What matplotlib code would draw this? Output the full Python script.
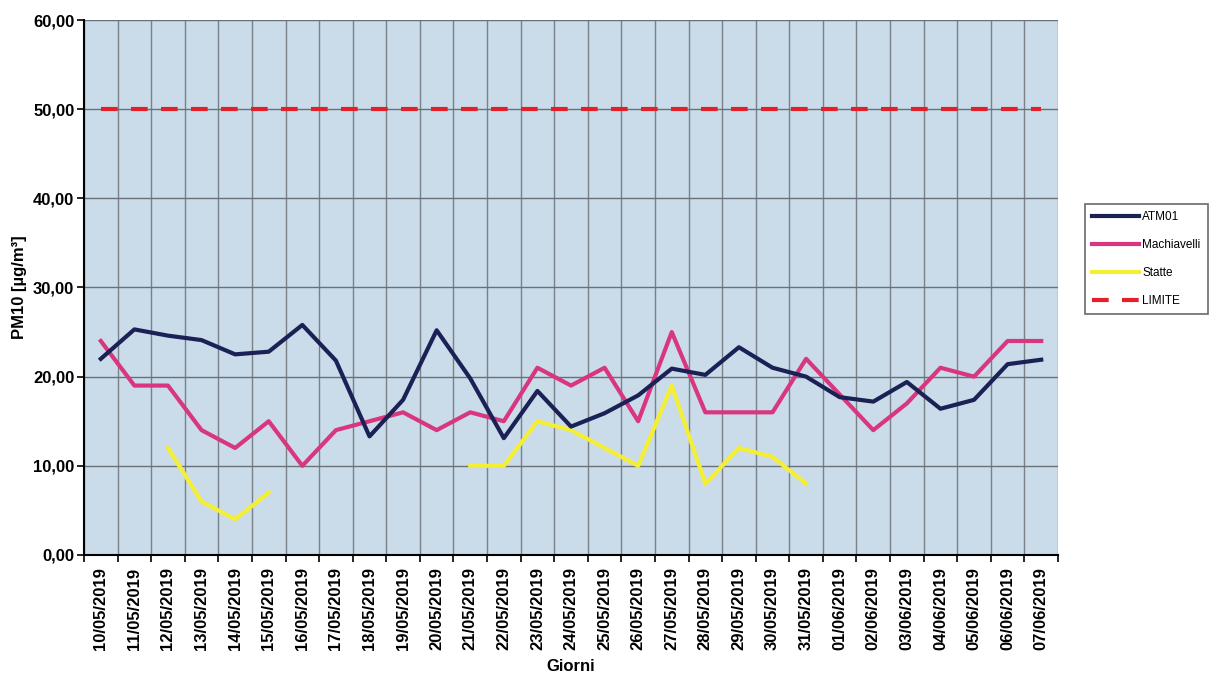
import numpy as np
import matplotlib
matplotlib.use("Agg")
import matplotlib.pyplot as plt

dates = ["10/05/2019", "11/05/2019", "12/05/2019", "13/05/2019", "14/05/2019",
         "15/05/2019", "16/05/2019", "17/05/2019", "18/05/2019", "19/05/2019",
         "20/05/2019", "21/05/2019", "22/05/2019", "23/05/2019", "24/05/2019",
         "25/05/2019", "26/05/2019", "27/05/2019", "28/05/2019", "29/05/2019",
         "30/05/2019", "31/05/2019", "01/06/2019", "02/06/2019", "03/06/2019",
         "04/06/2019", "05/06/2019", "06/06/2019", "07/06/2019"]

atm01 = [22.0, 25.3, 24.6, 24.1, 22.5, 22.8, 25.8, 21.8, 13.3, 17.4,
         25.2, 19.8, 13.1, 18.4, 14.4, 15.9, 17.9, 20.9, 20.2, 23.3,
         21.0, 20.0, 17.7, 17.2, 19.4, 16.4, 17.4, 21.4, 21.9]

machiavelli = [24, 19, 19, 14, 12, 15, 10, 14, 15, 16,
               14, 16, 15, 21, 19, 21, 15, 25, 16, 16,
               16, 22, 18, 14, 17, 21, 20, 24, 24]

nan = np.nan
statte = [nan, nan, 12, 6, 4, 7, nan, nan, nan, nan,
          nan, 10, 10, 15, 14, 12, 10, 19, 8, 12,
          11, 8, nan, nan, nan, nan, nan, nan, nan]

limite = [50] * 29

y_ticks = [0, 10, 20, 30, 40, 50, 60]
y_labels = ["0,00", "10,00", "20,00", "30,00", "40,00", "50,00", "60,00"]

plt.rcParams['font.family'] = ['Liberation Sans', 'DejaVu Sans']

fig = plt.figure(figsize=(12.14, 6.74), dpi=100)
ax = fig.add_axes([0.0692, 0.1766, 0.8023, 0.7937])
ax.set_facecolor('#cadcea')

x = np.arange(len(dates))

ax.plot(x, atm01, color='#1c2155', lw=3.0, label='ATM01', zorder=4)
ax.plot(x, machiavelli, color='#d8377f', lw=3.0, label='Machiavelli', zorder=3)
ax.plot(x, statte, color='#f4ef35', lw=3.0, label='Statte', zorder=3)
ax.plot(x, limite, color='#e3202a', lw=3.0, linestyle=(0, (4, 3.2)), label='LIMITE', zorder=5)

ax.set_xlim(-0.5, len(dates) - 0.5)
ax.set_ylim(0, 60)

ax.set_xticks(x)
ax.set_xticklabels(dates, rotation=90, fontsize=12, fontweight='bold')
ax.set_xticks(np.arange(-0.5, len(dates), 1.0), minor=True)
ax.tick_params(axis='x', which='major', length=0, pad=9)
ax.tick_params(axis='x', which='minor', length=5, width=1.2, color='black', direction='out')

ax.set_yticks(y_ticks)
ax.set_yticklabels(y_labels, fontsize=12, fontweight='bold')
ax.tick_params(axis='y', which='major', length=5, width=1.2, direction='out', pad=2)

ax.grid(True, axis='y', which='major', color='#6a7078', lw=1.0)
ax.grid(True, axis='x', which='minor', color='#7a8088', lw=1.0)
ax.grid(False, axis='x', which='major')
ax.set_axisbelow(True)

for s in ['top', 'right']:
    ax.spines[s].set_visible(False)
ax.spines['left'].set_linewidth(1.5)
ax.spines['bottom'].set_linewidth(1.5)

ax.set_ylabel('PM10 [µg/m³]', fontsize=12, fontweight='bold', labelpad=4)
ax.set_xlabel('Giorni', fontsize=12, fontweight='bold', labelpad=6)

leg = fig.legend(loc='upper left', bbox_to_anchor=(0.8937, 0.697), fontsize=8.5,
                 frameon=True, fancybox=False, edgecolor='#444444',
                 handlelength=4.0, labelspacing=1.35, borderpad=0.6,
                 handletextpad=0.25, borderaxespad=0)
leg.get_frame().set_linewidth(1.2)

fig.savefig('out.png', dpi=100, facecolor='white')
